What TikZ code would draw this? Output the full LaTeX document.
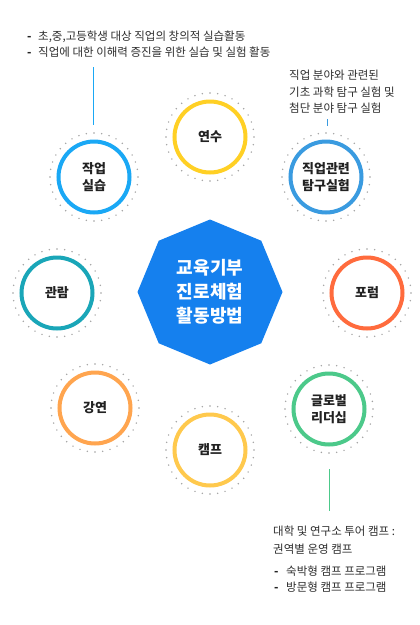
\documentclass[tikz,border=0pt]{standalone}
\usepackage{fontspec}
\setmainfont{Noto Sans CJK KR}
\usetikzlibrary{shapes.geometric,backgrounds}
\definecolor{hubc}{HTML}{1580EE}
\definecolor{txt}{HTML}{222222}
\definecolor{note}{HTML}{2E2E2E}
\definecolor{dotc}{HTML}{A0A0A0}
\definecolor{spokec}{HTML}{E4E4E4}
\definecolor{cYS}{HTML}{FFD025}
\definecolor{cJG}{HTML}{3A9BE0}
\definecolor{cPR}{HTML}{FF6B3D}
\definecolor{cGL}{HTML}{4CC98A}
\definecolor{cCP}{HTML}{FFC94D}
\definecolor{cGY}{HTML}{FFA54F}
\definecolor{cGR}{HTML}{1AA6B8}
\definecolor{cJS}{HTML}{1AA8F5}
\begin{document}
\begin{tikzpicture}[x=1pt,y=-1pt,
  ring/.style={circle, draw=#1, line width=4pt, fill=white, minimum size=71pt,
    inner sep=0pt, font=\bfseries\fontsize{13}{17}\selectfont, text=txt, align=center},
  spoke/.style={draw=spokec, line width=1pt, shorten >=44pt},
  notetext/.style={anchor=base west, inner sep=0pt, text=note, font=\fontsize{11.5}{14}\selectfont},
  dashtext/.style={anchor=base west, inner sep=0pt, text=txt, font=\bfseries\fontsize{11.5}{14}\selectfont},
  leader/.style={line width=1pt, draw=#1}]
\useasboundingbox[fill=white] (0,0) rectangle (420,625);

% hub
\node[regular polygon, regular polygon sides=8, shape border rotate=22.5,
  minimum size=145pt, inner sep=0pt, fill=hubc, text=white, align=center,
  font=\bfseries\fontsize{18}{24}\selectfont] (hub) at (210,292) {교육기부\\진로체험\\활동방법};

% circles
\node[ring=cYS] (ys) at (210,137) {연수};
\node[ring=cJG] (jg) at (326,177) {직업관련\\탐구실험};
\node[ring=cPR] (pr) at (367,293) {포럼};
\node[ring=cGL] (gl) at (329,409) {글로벌\\리더십};
\node[ring=cCP] (cp) at (210,450) {캠프};
\node[ring=cGY] (gy) at (95,408) {강연};
\node[ring=cGR] (gr) at (57,293) {관람};
\node[ring=cJS] (js) at (94,177) {작업\\실습};

% dotted outer rings
\foreach \n in {ys,jg,pr,gl,cp,gy,gr,js}{
  \foreach \a in {0,10,...,350}
    \fill[dotc] (\n.center) ++(\a:44) circle (0.8pt);
}

% spokes
\begin{pgfonlayer}{background}
\foreach \n in {ys,jg,pr,gl,cp,gy,gr,js}
  \draw[spoke] (hub.center) -- (\n.center);
\end{pgfonlayer}

% leaders
\coordinate (jsTop) at (93,67);
\coordinate (jsBot) at (93,125);
\draw[leader=cJS] (jsTop) -- (jsBot);
\coordinate (jgTop) at (327,119);
\coordinate (jgBot) at (327,126);
\draw[leader=cJG] (jgTop) -- (jgBot);
\coordinate (glTop) at (329,469);
\coordinate (glBot) at (329,511);
\draw[leader=cGL] (glTop) -- (glBot);

% top-left notes
\node[dashtext] (d1) at (27,40) {-};
\node[notetext] (t1) at (38,40) {초,중,고등학생 대상 직업의 창의적 실습활동};
\node[dashtext] (d2) at (27,56) {-};
\node[notetext] (t2) at (38,56) {직업에 대한 이해력 증진을 위한 실습 및 실험 활동};

% top-right notes
\node[notetext] (r1) at (289,79) {직업 분야와 관련된};
\node[notetext] (r2) at (289,96) {기초 과학 탐구 실험 및};
\node[notetext] (r3) at (289,112) {첨단 분야 탐구 실험};

% bottom-right notes
\node[notetext] (b1) at (273,535) {대학 및 연구소 투어 캠프 :};
\node[notetext] (b2) at (273,553) {권역별 운영 캠프};
\node[dashtext] (b3d) at (274,575) {-};
\node[notetext] (b3) at (286,575) {숙박형 캠프 프로그램};
\node[dashtext] (b4d) at (274,591) {-};
\node[notetext] (b4) at (286,591) {방문형 캠프 프로그램};
\end{tikzpicture}
\end{document}
